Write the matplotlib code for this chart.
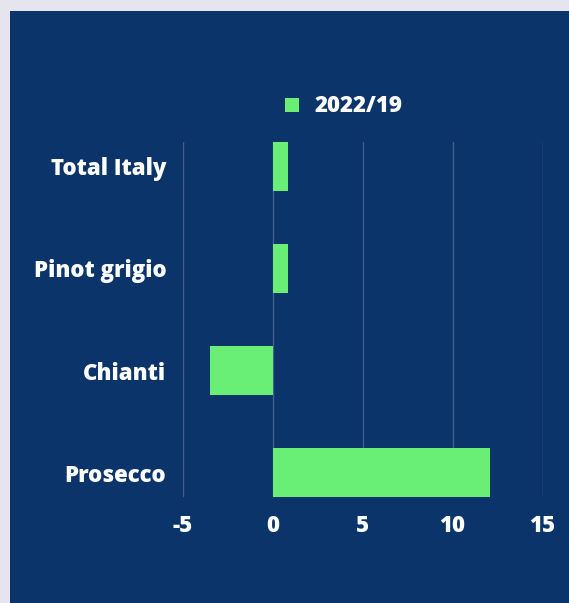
import matplotlib.pyplot as plt
from matplotlib.patches import Rectangle

# data
categories = ['Total Italy', 'Pinot grigio', 'Chianti', 'Prosecco']
values = [0.85, 0.85, -3.5, 12.1]
series_name = '2022/19'
xticks = [-5, 0, 5, 10, 15]

navy = '#0b346a'
green = '#69ee76'
grid_col = '#3f5f8f'

plt.rcParams['font.family'] = ['Open Sans', 'DejaVu Sans']
plt.rcParams['font.weight'] = 'heavy'
plt.rcParams['axes.unicode_minus'] = False

fig = plt.figure(figsize=(5.69, 6.03), dpi=100)
fig.patch.set_facecolor('#e6e4ef')
fig.patches.append(Rectangle((9.5 / 569, 0), 1, (603 - 11) / 603,
                             transform=fig.transFigure, facecolor=navy,
                             edgecolor='none', zorder=-5))

ax = fig.add_axes([183 / 569, (603 - 497) / 603, (542.5 - 183) / 569, 355 / 603])
ax.set_facecolor('none')

h = 0.48
ypos = list(range(len(categories)))
ax.barh(ypos, values, height=h, color=green, label=series_name, zorder=3)
ax.set_ylim(len(categories) - 1 + h / 2, -h / 2)
ax.set_xlim(-5, 15)
ax.set_xticks(xticks)
ax.set_yticks(ypos)
ax.set_yticklabels(categories)
ax.grid(axis='x', color=grid_col, linewidth=1)
ax.set_axisbelow(True)
for s in ax.spines.values():
    s.set_visible(False)
ax.tick_params(length=0, colors='white', labelsize=16)
ax.tick_params(axis='y', pad=12)
ax.tick_params(axis='x', pad=12)
for t in ax.get_xticklabels() + ax.get_yticklabels():
    t.set_fontweight('heavy')

leg = ax.legend(loc='lower center', bbox_to_anchor=(0.447, 1.01), frameon=False,
                handlelength=0.6, handleheight=0.6, handletextpad=0.7,
                prop={'size': 16, 'weight': 'heavy'})
for t in leg.get_texts():
    t.set_color('white')

plt.savefig('out.png', dpi=100, facecolor=fig.get_facecolor())
